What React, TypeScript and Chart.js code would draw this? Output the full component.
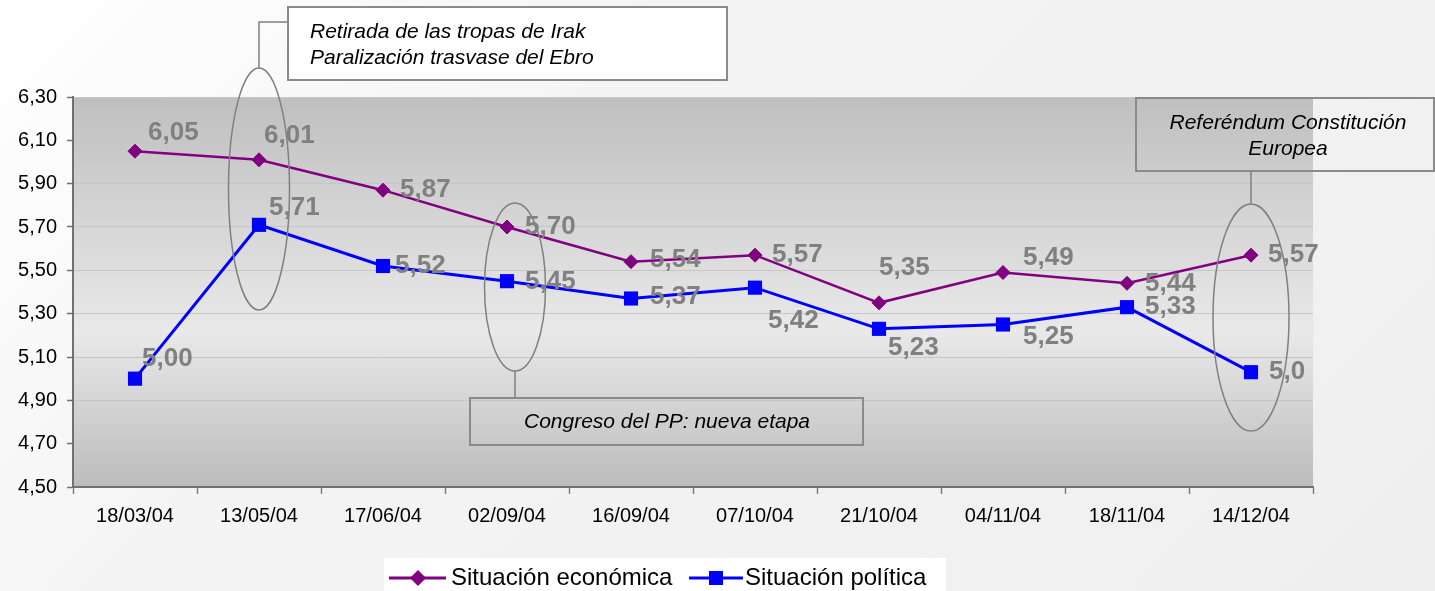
import React, { useEffect, useRef } from 'react';
import { Chart, registerables } from 'chart.js';

Chart.register(...registerables);

const FONT = "'Liberation Sans', Arial, sans-serif";

// ---------- data ----------
const categories = ['18/03/04', '13/05/04', '17/06/04', '02/09/04', '16/09/04', '07/10/04', '21/10/04', '04/11/04', '18/11/04', '14/12/04'];
const economica = [6.05, 6.01, 5.87, 5.70, 5.54, 5.57, 5.35, 5.49, 5.44, 5.57];
const politica = [5.00, 5.71, 5.52, 5.45, 5.37, 5.42, 5.23, 5.25, 5.33, 5.03];
const economicaLabels = ['6,05', '6,01', '5,87', '5,70', '5,54', '5,57', '5,35', '5,49', '5,44', '5,57'];
const politicaLabels = ['5,00', '5,71', '5,52', '5,45', '5,37', '5,42', '5,23', '5,25', '5,33', '5,0'];
const seriesNames = ['Situación económica', 'Situación política'];
const yMin = 4.5;
const yMax = 6.3;
const yStep = 0.2;
const irakText = ['Retirada de las tropas de Irak', 'Paralización trasvase del Ebro'];
const congresoText = ['Congreso del PP: nueva etapa'];
const referendumText = ['Referéndum Constitución', 'Europea'];

// ---------- label placement (layout only) ----------
const econOffsets = [[13, -18], [5, -24], [17, 0], [18, 0], [19, -2], [17, 0], [0, -35], [20, -15], [18, 0], [17, 0]];
const polOffsets = [[7, -20], [10, -17], [12, 0], [18, 1], [19, -2], [13, 33], [9, 19], [20, 12], [18, 0], [18, 0]];

const plotBg = {
  id: 'plotBg',
  beforeDraw(chart: any) {
    const { ctx, chartArea: a } = chart;
    const g = ctx.createLinearGradient(0, a.top, 0, a.bottom);
    g.addColorStop(0, '#bfbfbf');
    g.addColorStop(0.6, '#e9e9e9');
    g.addColorStop(1, '#bcbcbc');
    ctx.save();
    ctx.fillStyle = g;
    ctx.fillRect(a.left, a.top, a.right - a.left, a.bottom - a.top);
    ctx.restore();
  },
};

const valueLabels = {
  id: 'valueLabels',
  afterDatasetsDraw(chart: any) {
    const { ctx } = chart;
    const sets = [
      { meta: chart.getDatasetMeta(0), labels: economicaLabels, offs: econOffsets },
      { meta: chart.getDatasetMeta(1), labels: politicaLabels, offs: polOffsets },
    ];
    ctx.save();
    ctx.font = `bold 26px ${FONT}`;
    ctx.fillStyle = '#808080';
    ctx.textAlign = 'left';
    ctx.textBaseline = 'middle';
    sets.forEach(({ meta, labels, offs }) => {
      meta.data.forEach((pt: any, i: number) => {
        ctx.fillText(labels[i], pt.x + offs[i][0], pt.y + offs[i][1]);
      });
    });
    ctx.restore();
  },
};

const annotations = {
  id: 'annotations',
  afterDraw(chart: any) {
    const { ctx } = chart;
    const xs = chart.scales.x;
    const ys = chart.scales.y;
    const px = (i: number) => xs.getPixelForValue(i);
    const py = (v: number) => ys.getPixelForValue(v);
    ctx.save();
    ctx.strokeStyle = '#808080';
    ctx.lineWidth = 1.5;

    const ellipse = (cx: number, top: number, bottom: number, rx: number) => {
      ctx.beginPath();
      ctx.ellipse(cx, (top + bottom) / 2, rx, (bottom - top) / 2, 0, 0, Math.PI * 2);
      ctx.stroke();
    };

    // Ellipse 1 (13/05/04)
    const e1x = px(1);
    const e1t = py(6.434);
    const e1b = py(5.317);
    ellipse(e1x, e1t, e1b, 30.5);
    // connector to box 1
    ctx.beginPath();
    ctx.moveTo(e1x, e1t);
    ctx.lineTo(e1x, 22);
    ctx.lineTo(288, 22);
    ctx.stroke();

    // Ellipse 2 (02/09/04)
    const e2x = px(3) + 8;
    const e2t = py(5.811);
    const e2b = py(5.035);
    ellipse(e2x, e2t, e2b, 30.5);
    ctx.beginPath();
    ctx.moveTo(e2x, e2b);
    ctx.lineTo(e2x, 398);
    ctx.stroke();

    // Ellipse 3 (14/12/04)
    const e3x = px(9);
    const e3t = py(5.806);
    const e3b = py(4.758);
    ellipse(e3x, e3t, e3b, 38);
    ctx.beginPath();
    ctx.moveTo(e3x, e3t);
    ctx.lineTo(e3x, 171);
    ctx.stroke();

    // Boxes
    ctx.lineWidth = 2;
    ctx.strokeStyle = '#8a8a8a';
    // box 1
    ctx.fillStyle = '#ffffff';
    ctx.fillRect(288, 7, 439, 73);
    ctx.strokeRect(288, 7, 439, 73);
    // box 2
    ctx.strokeRect(470, 398, 393, 47);
    // box 3
    ctx.strokeRect(1136, 98, 298, 73);

    ctx.fillStyle = '#000000';
    ctx.font = `italic 21px ${FONT}`;
    ctx.textBaseline = 'middle';
    ctx.textAlign = 'left';
    ctx.fillText(irakText[0], 310, 32);
    ctx.fillText(irakText[1], 310, 58);
    ctx.textAlign = 'center';
    ctx.fillText(congresoText[0], 667, 422);
    ctx.fillText(referendumText[0], 1288, 123);
    ctx.fillText(referendumText[1], 1288, 149);

    // Legend
    ctx.fillStyle = '#ffffff';
    ctx.fillRect(384, 558, 562, 40);
    const ly = 578;
    ctx.lineWidth = 3;
    ctx.strokeStyle = '#800080';
    ctx.beginPath();
    ctx.moveTo(389, ly);
    ctx.lineTo(446, ly);
    ctx.stroke();
    ctx.fillStyle = '#800080';
    ctx.beginPath();
    ctx.moveTo(418, ly - 8);
    ctx.lineTo(426, ly);
    ctx.lineTo(418, ly + 8);
    ctx.lineTo(410, ly);
    ctx.closePath();
    ctx.fill();
    ctx.strokeStyle = '#0000ff';
    ctx.beginPath();
    ctx.moveTo(689, ly);
    ctx.lineTo(743, ly);
    ctx.stroke();
    ctx.fillStyle = '#0000ff';
    ctx.fillRect(709, ly - 7, 14, 14);
    ctx.fillStyle = '#000000';
    ctx.font = `24px ${FONT}`;
    ctx.textAlign = 'left';
    ctx.fillText(seriesNames[0], 451, ly);
    ctx.fillText(seriesNames[1], 745, ly);
    ctx.restore();
  },
};

export default function App() {
  const ref = useRef<HTMLCanvasElement | null>(null);

  useEffect(() => {
    if (!ref.current) return;
    Chart.defaults.font.family = FONT;
    const chart = new Chart(ref.current, {
      type: 'line',
      data: {
        labels: categories,
        datasets: [
          {
            label: seriesNames[0],
            data: economica,
            borderColor: '#800080',
            backgroundColor: '#800080',
            borderWidth: 2.5,
            pointStyle: 'rectRot',
            pointRadius: 7,
            pointBorderWidth: 1,
            pointBackgroundColor: '#800080',
            pointBorderColor: '#800080',
            tension: 0,
            clip: false as any,
          },
          {
            label: seriesNames[1],
            data: politica,
            borderColor: '#0000ff',
            backgroundColor: '#0000ff',
            borderWidth: 3,
            pointStyle: 'rect',
            pointRadius: 10,
            pointBorderWidth: 0,
            pointBackgroundColor: '#0000ff',
            pointBorderColor: '#0000ff',
            tension: 0,
            clip: false as any,
          },
        ],
      },
      options: {
        responsive: false,
        animation: false,
        events: [],
        layout: { padding: { top: 97, right: 122, left: 0, bottom: 0 } },
        plugins: {
          legend: { display: false },
          tooltip: { enabled: false },
          title: { display: false },
        },
        scales: {
          x: {
            type: 'category',
            offset: true,
            grid: {
              offset: true,
              drawOnChartArea: false,
              tickLength: 7,
              tickColor: '#808080',
              tickWidth: 1.5,
            },
            border: { color: '#707070', width: 2 },
            ticks: {
              color: '#000000',
              font: { size: 20, family: FONT },
              padding: 10,
              maxRotation: 0,
              autoSkip: false,
            },
            afterFit(s: any) {
              s.height = 104;
            },
          },
          y: {
            min: yMin,
            max: yMax,
            ticks: {
              stepSize: yStep,
              color: '#000000',
              font: { size: 20, family: FONT },
              padding: 10,
              callback: (v: any) => Number(v).toFixed(2).replace('.', ','),
            },
            grid: {
              color: '#c6c6c6',
              lineWidth: 1,
              tickLength: 6,
              tickColor: '#707070',
              tickWidth: 1.5,
            },
            border: { color: '#707070', width: 2 },
            afterFit(s: any) {
              s.width = 73;
            },
          },
        },
      } as any,
      plugins: [plotBg, valueLabels, annotations],
    });
    return () => chart.destroy();
  }, []);

  return (
    <div
      style={{
        position: 'absolute',
        left: 0,
        top: 0,
        width: 1435,
        height: 591,
        overflow: 'hidden',
        background: 'linear-gradient(135deg, #ffffff 0%, #f4f4f4 35%, #efefef 100%)',
      }}
    >
      <canvas ref={ref} width={1435} height={591} style={{ display: 'block' }} />
    </div>
  );
}
